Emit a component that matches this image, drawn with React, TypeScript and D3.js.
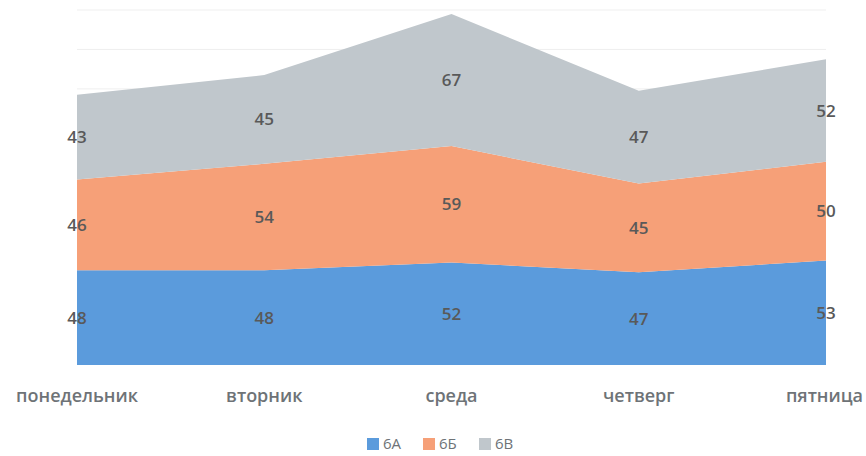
import { useEffect, useRef } from 'react';
import * as d3 from 'd3';

// Данные графика
const days = ['понедельник', 'вторник', 'среда', 'четверг', 'пятница'];
const seriesNames = ['6А', '6Б', '6В'];
const values6A = [48, 48, 52, 47, 53];
const values6B = [46, 54, 59, 45, 50];
const values6V = [43, 45, 67, 47, 52];
const colors = ['#5b9bdc', '#f6a078', '#c0c7cc'];
const gridTicks = [20, 40, 60, 80, 100, 120, 140, 160, 180];

export default function App() {
  const ref = useRef<SVGSVGElement>(null);

  useEffect(() => {
    if (!ref.current) return;
    const svg = d3.select(ref.current);
    svg.selectAll('*').remove();

    const W = 866;
    const font = '"Open Sans", "Noto Sans", sans-serif';

    const rows = days.map((d, i) => ({
      day: d,
      '6А': values6A[i],
      '6Б': values6B[i],
      '6В': values6V[i],
    }));

    const x = d3.scalePoint<string>().domain(days).range([77, 826]);
    const y = d3.scaleLinear().domain([0, 180]).range([365, 10]);

    const stack = d3.stack<any>().keys(seriesNames);
    const layers = stack(rows);

    // сетка (видна только над областями)
    svg.append('g')
      .selectAll('line')
      .data(gridTicks)
      .enter()
      .append('line')
      .attr('x1', 77)
      .attr('x2', 826)
      .attr('y1', d => y(d))
      .attr('y2', d => y(d))
      .attr('stroke', '#efefef')
      .attr('stroke-width', 1);

    const area = d3.area<any>()
      .x(d => x(d.data.day) as number)
      .y0(d => y(d[0]))
      .y1(d => y(d[1]));

    svg.append('g')
      .selectAll('path')
      .data(layers)
      .enter()
      .append('path')
      .attr('d', d => area(d) as string)
      .attr('fill', (_, i) => colors[i]);

    // подписи значений
    layers.forEach(layer => {
      svg.append('g')
        .selectAll('text')
        .data(layer)
        .enter()
        .append('text')
        .attr('x', d => x(d.data.day) as number)
        .attr('y', d => y((d[0] + d[1]) / 2))
        .attr('dy', '0.35em')
        .attr('text-anchor', 'middle')
        .attr('fill', '#595959')
        .style('font-family', font)
        .style('font-size', '17px')
        .style('font-weight', '600')
        .text(d => String(d[1] - d[0]));
    });

    // подписи категорий
    const labels = svg.append('g')
      .selectAll('text')
      .data(days)
      .enter()
      .append('text')
      .attr('x', d => x(d) as number)
      .attr('y', 402)
      .attr('text-anchor', 'middle')
      .attr('fill', '#6e7377')
      .style('font-family', font)
      .style('font-size', '18px')
      .style('font-weight', '600')
      .text(d => d);

    labels.each(function () {
      const el = this as SVGTextElement;
      const w = el.getComputedTextLength();
      const cx = +el.getAttribute('x')!;
      if (cx + w / 2 > W - 3) el.setAttribute('x', String(W - 3 - w / 2));
      if (cx - w / 2 < 3) el.setAttribute('x', String(3 + w / 2));
    });

    // легенда
    const legend = svg.append('g').attr('transform', 'translate(367,444)');
    const offsets = [0, 56, 112];
    seriesNames.forEach((name, i) => {
      const g = legend.append('g').attr('transform', `translate(${offsets[i]},0)`);
      g.append('rect')
        .attr('x', 0)
        .attr('y', -6)
        .attr('width', 12)
        .attr('height', 12)
        .attr('fill', colors[i]);
      g.append('text')
        .attr('x', 16)
        .attr('y', 0)
        .attr('dy', '0.35em')
        .attr('fill', '#6e7377')
        .style('font-family', font)
        .style('font-size', '15px')
        .text(name);
    });
  }, []);

  return (
    <svg
      ref={ref}
      width={866}
      height={456}
      style={{ position: 'absolute', left: 0, top: 0, background: '#fff' }}
    />
  );
}
